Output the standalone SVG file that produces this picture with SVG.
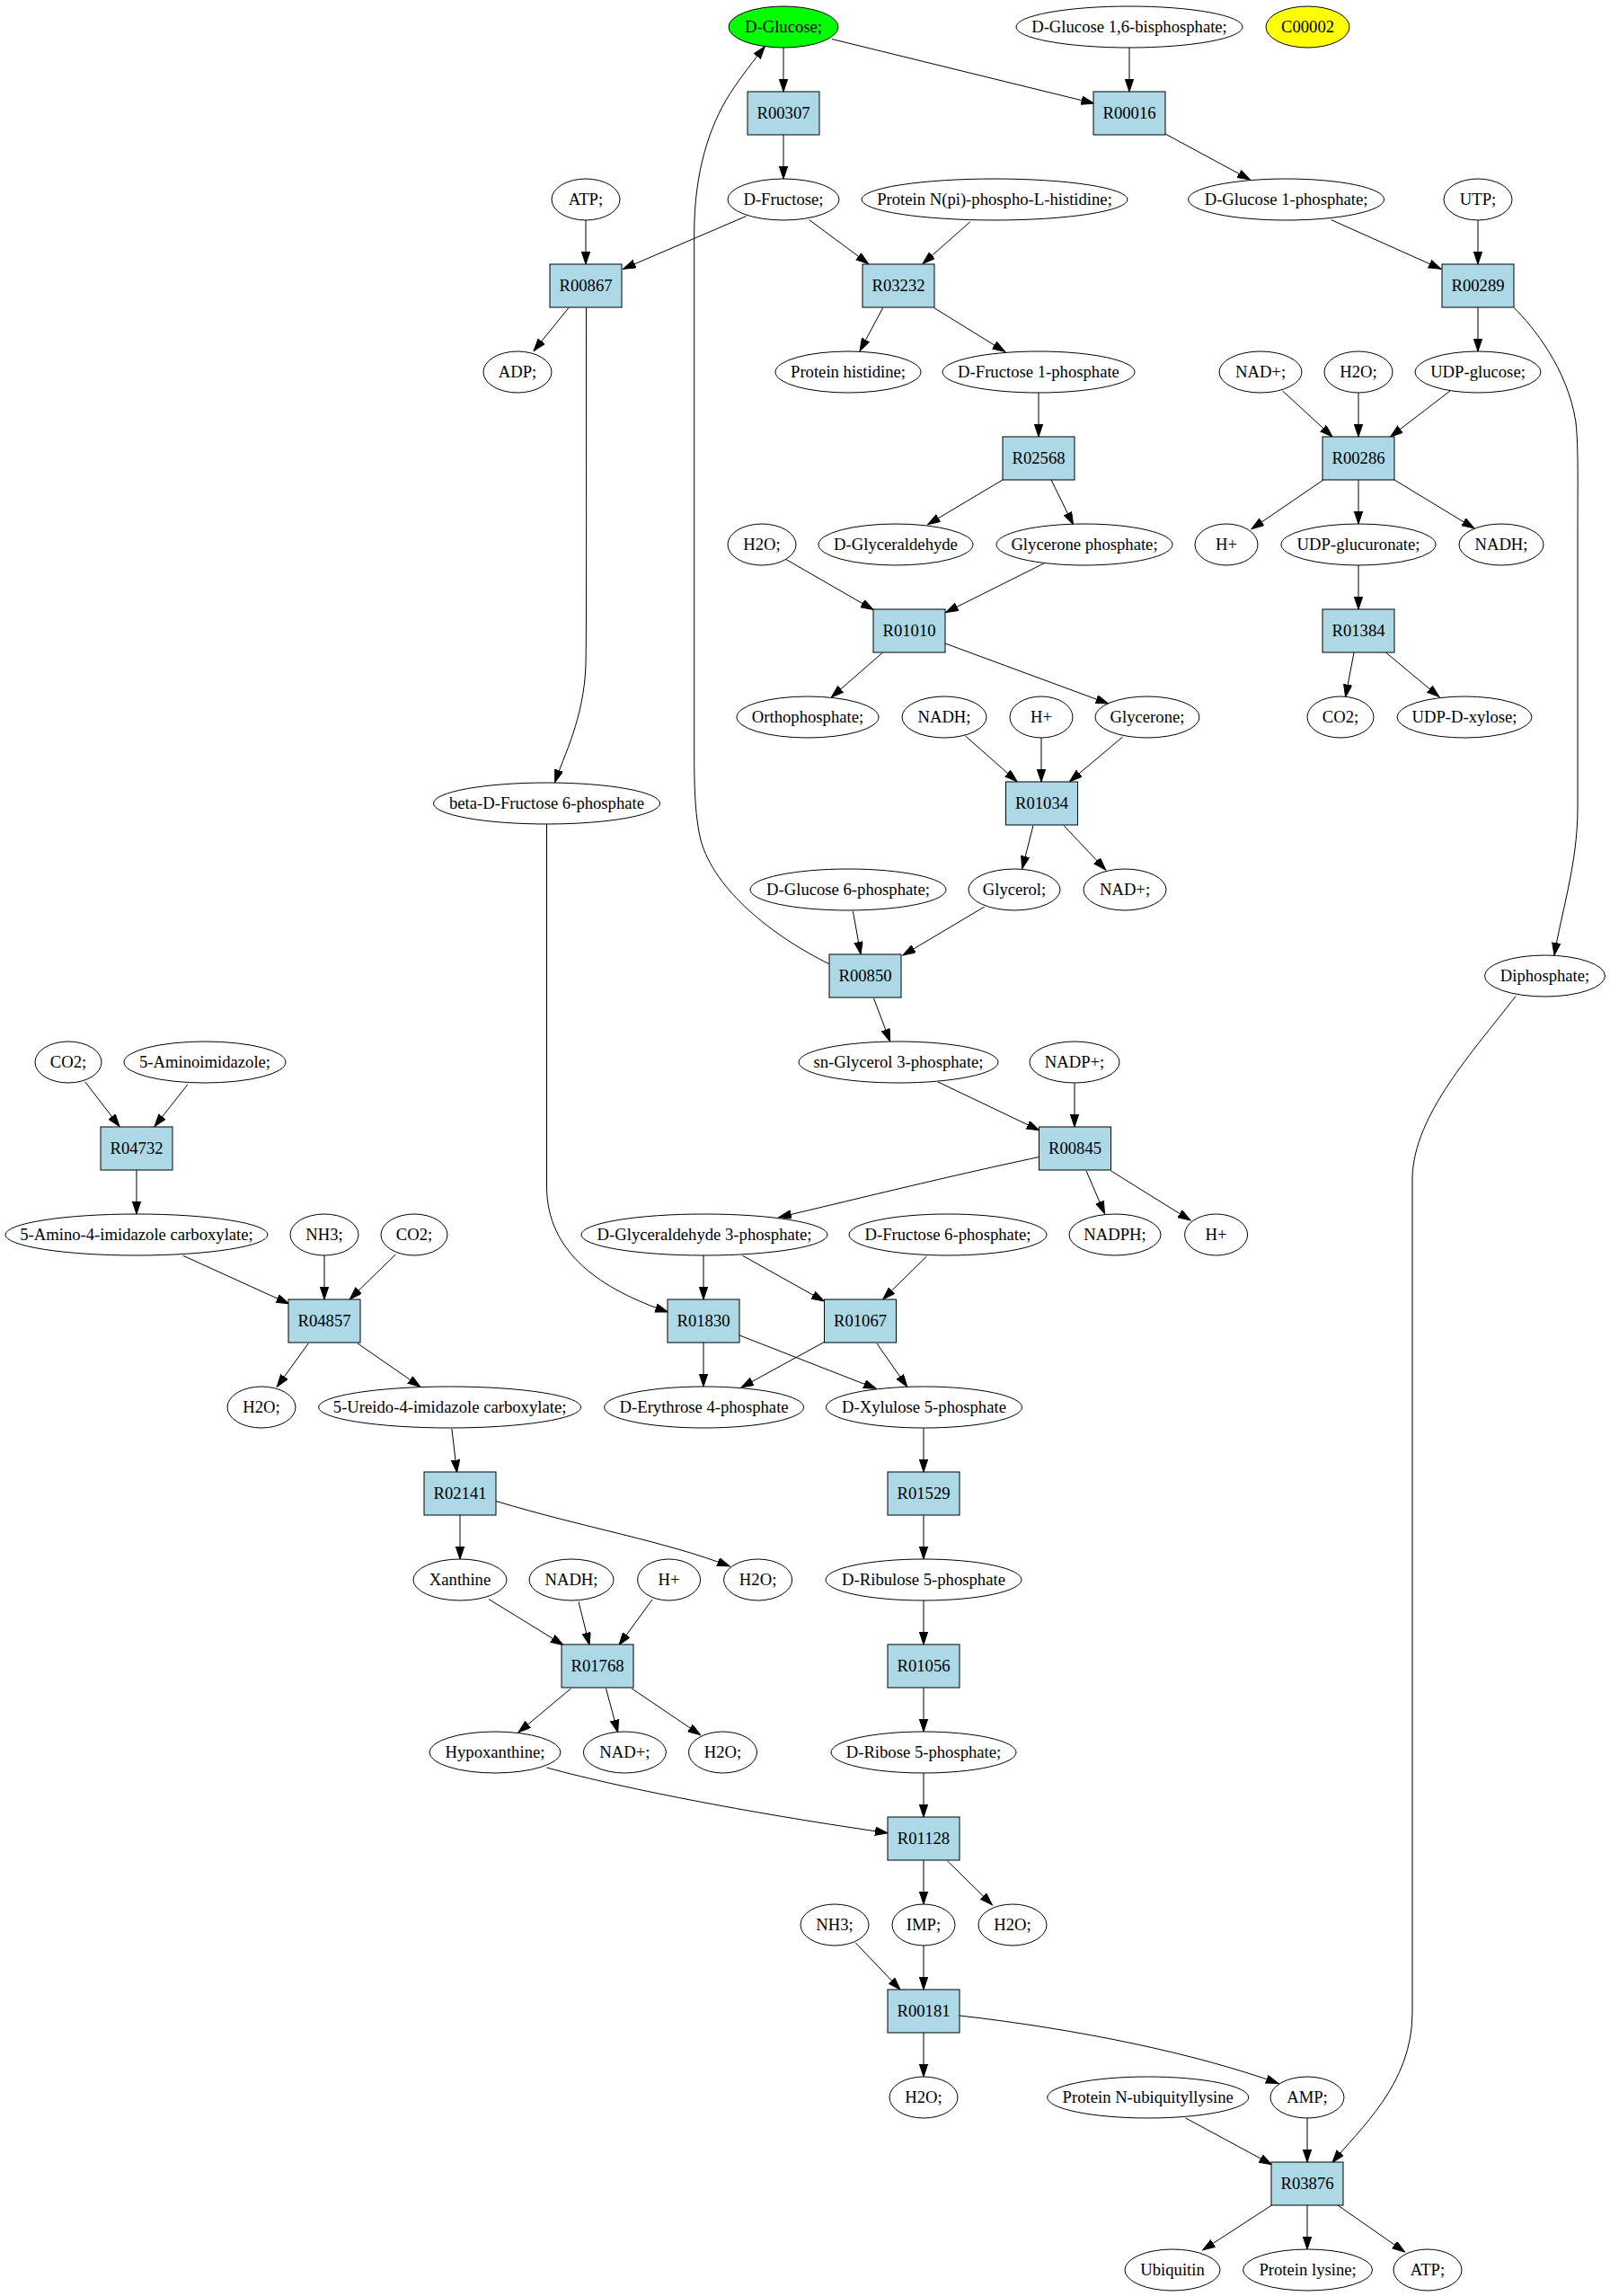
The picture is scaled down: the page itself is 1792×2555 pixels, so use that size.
<svg xmlns="http://www.w3.org/2000/svg" width="1792" height="2555" viewBox="0 0 1792 2555">
<style>
.bg{fill:#ffffff}
.c ellipse{fill:#ffffff;stroke:#000;stroke-width:1}
.r rect{fill:#add8e6;stroke:#000;stroke-width:1}
text{font-family:"Liberation Serif","Times New Roman",serif;font-size:18.67px;fill:#000;text-anchor:middle}
#edges path{fill:none;stroke:#000;stroke-width:1;marker-end:url(#ah)}
</style>
<defs>
<marker id="ah" markerUnits="userSpaceOnUse" markerWidth="15" markerHeight="10" refX="14" refY="4.7" orient="auto">
<path d="M0,0 L14,4.7 L0,9.4 z" fill="#000" stroke="#000" stroke-width="1"/>
</marker>
</defs>
<rect class="bg" x="0" y="0" width="1792" height="2555"/>
<g id="edges">
<path d="M872,53 L872,102"/>
<path d="M926,43.5 L1217.5,115"/>
<path d="M1257,53 L1257,102"/>
<path d="M872,150 L872,199"/>
<path d="M1297,149 L1391.4,200"/>
<path d="M830.6,240.5 L693.5,299.3"/>
<path d="M652,245 L652,294"/>
<path d="M900.6,244.6 L966.6,293.5"/>
<path d="M1080,246.7 L1027,293.5"/>
<path d="M1481.6,244.6 L1604,299.3"/>
<path d="M1645,245 L1645,294"/>
<path d="M633,342.5 L594,390.5"/>
<path d="M652.5,342.5 C652.5,500 653,690 652,740 C650,800 627,842 617.7,870.5"/>
<path d="M982.7,342.5 L957,390.5"/>
<path d="M1039.5,342.5 L1118.7,391.4"/>
<path d="M1645,342 L1645,391"/>
<path d="M1685.3,342.5 C1705,362 1745,410 1754,470 C1757,500 1756,540 1756,600 L1756,900 C1756,960 1738,1015 1730,1063"/>
<path d="M1156,437 L1156,486"/>
<path d="M1427.6,435 L1483,486"/>
<path d="M1512,437 L1512,486"/>
<path d="M1614,435 L1547.6,486"/>
<path d="M1116,534 L1032.6,583.7"/>
<path d="M1170,534 L1194.5,583.7"/>
<path d="M1473,534 L1393,588.7"/>
<path d="M1512,534 L1512,583"/>
<path d="M1552,534 L1641,588"/>
<path d="M874,622 L972,678.5"/>
<path d="M1161.8,627 L1052.7,681.5"/>
<path d="M1512,629 L1512,678"/>
<path d="M982.7,726 L925.3,776"/>
<path d="M1052,716 L1233.6,783"/>
<path d="M1507,726 L1497.6,775.6"/>
<path d="M1542.4,726 L1602,775.6"/>
<path d="M1074.5,819 L1132,869.7"/>
<path d="M1159,821 L1159,870"/>
<path d="M1249.6,820 L1190.5,869.7"/>
<path d="M1150,918.6 L1137.7,966.7"/>
<path d="M1184,918.6 L1230.7,968"/>
<path d="M949.4,1014 L958,1062"/>
<path d="M1095.8,1009 L1005,1063"/>
<path d="M923.6,1073 C860,1042 795,990 780,935 C774,910 772.7,880 772.7,840 L772.7,260 C772.7,190 790,140 812,105 C825,85 840,66 851.3,51.8"/>
<path d="M972.4,1110.6 L990.7,1159"/>
<path d="M1044,1204 L1156.6,1257.7"/>
<path d="M1196,1205 L1196,1254"/>
<path d="M1687,1108.5 C1640,1170 1574,1240 1572,1310 L1572,2240 C1572,2320 1512,2370 1483,2406.6"/>
<path d="M1156.6,1287.5 C1050,1310 930,1340 866.8,1354.6"/>
<path d="M1209,1302.8 L1229.5,1350.5"/>
<path d="M1236.4,1302.8 L1325,1358"/>
<path d="M209,1206.7 L172,1253.6"/>
<path d="M94.7,1203.8 L133,1253.6"/>
<path d="M152,1302 L152,1351"/>
<path d="M203.8,1397.3 L321.5,1450.8"/>
<path d="M361,1397 L361,1446"/>
<path d="M440.3,1396 L389.2,1445.8"/>
<path d="M783,1397 L783,1446"/>
<path d="M826.6,1397.3 L917.3,1448"/>
<path d="M1031.5,1398 L982.7,1445.8"/>
<path d="M608.5,917 L608.5,1320 C608.5,1395 670,1435 743.4,1460"/>
<path d="M343.3,1494.8 L308.3,1543.3"/>
<path d="M397.8,1494.8 L467.9,1543.3"/>
<path d="M783,1494 L783,1543"/>
<path d="M823.2,1486 L975.2,1545.3"/>
<path d="M917.3,1493.5 L825,1544"/>
<path d="M975.8,1494.8 L1009.7,1543.3"/>
<path d="M502.9,1590 L508.6,1638.6"/>
<path d="M1028,1589 L1028,1638"/>
<path d="M512,1686 L512,1735"/>
<path d="M552.2,1670.5 C650,1700 740,1715 812.3,1743"/>
<path d="M1028,1686 L1028,1735"/>
<path d="M544,1779.6 L627,1830.6"/>
<path d="M644,1782.5 L656,1830.6"/>
<path d="M726,1780 L689,1830.6"/>
<path d="M1028,1781 L1028,1830"/>
<path d="M635.5,1879 L577,1927.8"/>
<path d="M674.5,1879 L687.7,1927.8"/>
<path d="M703.2,1879 L779.6,1930.7"/>
<path d="M1028,1878 L1028,1927"/>
<path d="M608.5,1967 C700,1992 850,2020 988,2039.7"/>
<path d="M1028,1973 L1028,2022"/>
<path d="M1028,2070 L1028,2119"/>
<path d="M1054.5,2070.8 L1104.4,2119.8"/>
<path d="M952.3,2162 L1002,2214"/>
<path d="M1028,2165 L1028,2214"/>
<path d="M1028,2262 L1028,2311"/>
<path d="M1068,2243 C1200,2258 1330,2285 1423,2318.4"/>
<path d="M1319.7,2357 L1415.5,2408.7"/>
<path d="M1455,2357 L1455,2406"/>
<path d="M1415.5,2454 L1338.6,2504"/>
<path d="M1455,2454 L1455,2503"/>
<path d="M1489,2454 L1563.6,2506"/>
</g>
<g id="n_dglucose" class="c"><ellipse cx="872" cy="30" rx="61" ry="23" style="fill:#00ff00"/><text x="872" y="36">D-Glucose;</text></g>
<g id="n_dglc16bp" class="c"><ellipse cx="1257" cy="30" rx="126" ry="23"/><text x="1257" y="36">D-Glucose 1,6-bisphosphate;</text></g>
<g id="n_c00002" class="c"><ellipse cx="1455.5" cy="30" rx="46.5" ry="23" style="fill:#ffff00"/><text x="1455.5" y="36">C00002</text></g>
<g id="r_R00307" class="r"><rect x="832" y="102" width="80" height="48"/><text x="872" y="132">R00307</text></g>
<g id="r_R00016" class="r"><rect x="1217" y="102" width="80" height="48"/><text x="1257" y="132">R00016</text></g>
<g id="n_atp1" class="c"><ellipse cx="652" cy="222" rx="38" ry="23"/><text x="652" y="228">ATP;</text></g>
<g id="n_dfructose" class="c"><ellipse cx="872" cy="222" rx="62" ry="23"/><text x="872" y="228">D-Fructose;</text></g>
<g id="n_protnpi" class="c"><ellipse cx="1107" cy="222" rx="148" ry="23"/><text x="1107" y="228">Protein N(pi)-phospho-L-histidine;</text></g>
<g id="n_dglc1p" class="c"><ellipse cx="1431.6" cy="222" rx="109" ry="23"/><text x="1431.6" y="228">D-Glucose 1-phosphate;</text></g>
<g id="n_utp" class="c"><ellipse cx="1645" cy="222" rx="38" ry="23"/><text x="1645" y="228">UTP;</text></g>
<g id="r_R00867" class="r"><rect x="612" y="294" width="80" height="48"/><text x="652" y="324">R00867</text></g>
<g id="r_R03232" class="r"><rect x="960" y="294" width="80" height="48"/><text x="1000" y="324">R03232</text></g>
<g id="r_R00289" class="r"><rect x="1605" y="294" width="80" height="48"/><text x="1645" y="324">R00289</text></g>
<g id="n_adp" class="c"><ellipse cx="576" cy="414" rx="38" ry="23"/><text x="576" y="420">ADP;</text></g>
<g id="n_prothis" class="c"><ellipse cx="944" cy="414" rx="81" ry="23"/><text x="944" y="420">Protein histidine;</text></g>
<g id="n_dfru1p" class="c"><ellipse cx="1156" cy="414" rx="107" ry="23"/><text x="1156" y="420">D-Fructose 1-phosphate</text></g>
<g id="n_nadp1" class="c"><ellipse cx="1403" cy="414" rx="46" ry="23"/><text x="1403" y="420">NAD+;</text></g>
<g id="n_h2o1" class="c"><ellipse cx="1512" cy="414" rx="38" ry="23"/><text x="1512" y="420">H2O;</text></g>
<g id="n_udpglc" class="c"><ellipse cx="1645" cy="414" rx="70" ry="23"/><text x="1645" y="420">UDP-glucose;</text></g>
<g id="r_R02568" class="r"><rect x="1116" y="486" width="80" height="48"/><text x="1156" y="516">R02568</text></g>
<g id="r_R00286" class="r"><rect x="1472" y="486" width="80" height="48"/><text x="1512" y="516">R00286</text></g>
<g id="n_h2o2" class="c"><ellipse cx="848" cy="606" rx="38" ry="23"/><text x="848" y="612">H2O;</text></g>
<g id="n_dglyald" class="c"><ellipse cx="997" cy="606" rx="86" ry="23"/><text x="997" y="612">D-Glyceraldehyde</text></g>
<g id="n_glyconep" class="c"><ellipse cx="1207" cy="606" rx="98" ry="23"/><text x="1207" y="612">Glycerone phosphate;</text></g>
<g id="n_hplus1" class="c"><ellipse cx="1365" cy="606" rx="35" ry="23"/><text x="1365" y="612">H+</text></g>
<g id="n_udpglcur" class="c"><ellipse cx="1512" cy="606" rx="86" ry="23"/><text x="1512" y="612">UDP-glucuronate;</text></g>
<g id="n_nadh1" class="c"><ellipse cx="1671" cy="606" rx="47" ry="23"/><text x="1671" y="612">NADH;</text></g>
<g id="r_R01010" class="r"><rect x="972" y="678" width="80" height="48"/><text x="1012" y="708">R01010</text></g>
<g id="r_R01384" class="r"><rect x="1472" y="678" width="80" height="48"/><text x="1512" y="708">R01384</text></g>
<g id="n_ortho" class="c"><ellipse cx="899" cy="798" rx="79" ry="23"/><text x="899" y="804">Orthophosphate;</text></g>
<g id="n_nadh2" class="c"><ellipse cx="1051" cy="798" rx="47" ry="23"/><text x="1051" y="804">NADH;</text></g>
<g id="n_hplus2" class="c"><ellipse cx="1159" cy="798" rx="35" ry="23"/><text x="1159" y="804">H+</text></g>
<g id="n_glycerone" class="c"><ellipse cx="1277" cy="798" rx="58" ry="23"/><text x="1277" y="804">Glycerone;</text></g>
<g id="n_co2a" class="c"><ellipse cx="1492" cy="798" rx="37" ry="23"/><text x="1492" y="804">CO2;</text></g>
<g id="n_udpxyl" class="c"><ellipse cx="1630" cy="798" rx="75" ry="23"/><text x="1630" y="804">UDP-D-xylose;</text></g>
<g id="n_bdf6p" class="c"><ellipse cx="608.5" cy="894" rx="126" ry="23"/><text x="608.5" y="900">beta-D-Fructose 6-phosphate</text></g>
<g id="r_R01034" class="r"><rect x="1119.5" y="870" width="80" height="48"/><text x="1159.5" y="900">R01034</text></g>
<g id="n_dglc6p" class="c"><ellipse cx="944" cy="990" rx="109" ry="23"/><text x="944" y="996">D-Glucose 6-phosphate;</text></g>
<g id="n_glycerol" class="c"><ellipse cx="1129" cy="990" rx="51" ry="23"/><text x="1129" y="996">Glycerol;</text></g>
<g id="n_nadp2" class="c"><ellipse cx="1252" cy="990" rx="46" ry="23"/><text x="1252" y="996">NAD+;</text></g>
<g id="r_R00850" class="r"><rect x="923" y="1062" width="80" height="48"/><text x="963" y="1092">R00850</text></g>
<g id="n_diphos" class="c"><ellipse cx="1719.5" cy="1086" rx="67" ry="23"/><text x="1719.5" y="1092">Diphosphate;</text></g>
<g id="n_co2b" class="c"><ellipse cx="76" cy="1182" rx="37" ry="23"/><text x="76" y="1188">CO2;</text></g>
<g id="n_5aim" class="c"><ellipse cx="228" cy="1182" rx="90" ry="23"/><text x="228" y="1188">5-Aminoimidazole;</text></g>
<g id="n_sng3p" class="c"><ellipse cx="1000" cy="1182" rx="111" ry="23"/><text x="1000" y="1188">sn-Glycerol 3-phosphate;</text></g>
<g id="n_nadpplus" class="c"><ellipse cx="1196" cy="1182" rx="50" ry="23"/><text x="1196" y="1188">NADP+;</text></g>
<g id="r_R04732" class="r"><rect x="112" y="1254" width="80" height="48"/><text x="152" y="1284">R04732</text></g>
<g id="r_R00845" class="r"><rect x="1156.5" y="1254" width="80" height="48"/><text x="1196.5" y="1284">R00845</text></g>
<g id="n_5a4ic" class="c"><ellipse cx="152" cy="1374" rx="146" ry="23"/><text x="152" y="1380">5-Amino-4-imidazole carboxylate;</text></g>
<g id="n_nh3a" class="c"><ellipse cx="361" cy="1374" rx="38" ry="23"/><text x="361" y="1380">NH3;</text></g>
<g id="n_co2c" class="c"><ellipse cx="461" cy="1374" rx="37" ry="23"/><text x="461" y="1380">CO2;</text></g>
<g id="n_dg3p" class="c"><ellipse cx="784" cy="1374" rx="137" ry="23"/><text x="784" y="1380">D-Glyceraldehyde 3-phosphate;</text></g>
<g id="n_df6p" class="c"><ellipse cx="1055" cy="1374" rx="110" ry="23"/><text x="1055" y="1380">D-Fructose 6-phosphate;</text></g>
<g id="n_nadph" class="c"><ellipse cx="1241" cy="1374" rx="51" ry="23"/><text x="1241" y="1380">NADPH;</text></g>
<g id="n_hplus3" class="c"><ellipse cx="1353.6" cy="1374" rx="35" ry="23"/><text x="1353.6" y="1380">H+</text></g>
<g id="r_R04857" class="r"><rect x="321" y="1446" width="80" height="48"/><text x="361" y="1476">R04857</text></g>
<g id="r_R01830" class="r"><rect x="743" y="1446" width="80" height="48"/><text x="783" y="1476">R01830</text></g>
<g id="r_R01067" class="r"><rect x="917.5" y="1446" width="80" height="48"/><text x="957.5" y="1476">R01067</text></g>
<g id="n_h2o3" class="c"><ellipse cx="291" cy="1566" rx="38" ry="23"/><text x="291" y="1572">H2O;</text></g>
<g id="n_5u4ic" class="c"><ellipse cx="500.6" cy="1566" rx="146" ry="23"/><text x="500.6" y="1572">5-Ureido-4-imidazole carboxylate;</text></g>
<g id="n_de4p" class="c"><ellipse cx="783.6" cy="1566" rx="111" ry="23"/><text x="783.6" y="1572">D-Erythrose 4-phosphate</text></g>
<g id="n_dx5p" class="c"><ellipse cx="1028.5" cy="1566" rx="109" ry="23"/><text x="1028.5" y="1572">D-Xylulose 5-phosphate</text></g>
<g id="r_R02141" class="r"><rect x="472" y="1638" width="80" height="48"/><text x="512" y="1668">R02141</text></g>
<g id="r_R01529" class="r"><rect x="988" y="1638" width="80" height="48"/><text x="1028" y="1668">R01529</text></g>
<g id="n_xanthine" class="c"><ellipse cx="512" cy="1758" rx="52" ry="23"/><text x="512" y="1764">Xanthine</text></g>
<g id="n_nadh3" class="c"><ellipse cx="636" cy="1758" rx="47" ry="23"/><text x="636" y="1764">NADH;</text></g>
<g id="n_hplus4" class="c"><ellipse cx="744.6" cy="1758" rx="35" ry="23"/><text x="744.6" y="1764">H+</text></g>
<g id="n_h2o4" class="c"><ellipse cx="843.6" cy="1758" rx="38" ry="23"/><text x="843.6" y="1764">H2O;</text></g>
<g id="n_dru5p" class="c"><ellipse cx="1028" cy="1758" rx="109" ry="23"/><text x="1028" y="1764">D-Ribulose 5-phosphate</text></g>
<g id="r_R01768" class="r"><rect x="625" y="1830" width="80" height="48"/><text x="665" y="1860">R01768</text></g>
<g id="r_R01056" class="r"><rect x="988" y="1830" width="80" height="48"/><text x="1028" y="1860">R01056</text></g>
<g id="n_hypox" class="c"><ellipse cx="551" cy="1950" rx="73" ry="23"/><text x="551" y="1956">Hypoxanthine;</text></g>
<g id="n_nadp3" class="c"><ellipse cx="695.4" cy="1950" rx="46" ry="23"/><text x="695.4" y="1956">NAD+;</text></g>
<g id="n_h2o5" class="c"><ellipse cx="804.5" cy="1950" rx="38" ry="23"/><text x="804.5" y="1956">H2O;</text></g>
<g id="n_dr5p" class="c"><ellipse cx="1028" cy="1950" rx="103" ry="23"/><text x="1028" y="1956">D-Ribose 5-phosphate;</text></g>
<g id="r_R01128" class="r"><rect x="988" y="2022" width="80" height="48"/><text x="1028" y="2052">R01128</text></g>
<g id="n_nh3b" class="c"><ellipse cx="929" cy="2142" rx="38" ry="23"/><text x="929" y="2148">NH3;</text></g>
<g id="n_imp" class="c"><ellipse cx="1028" cy="2142" rx="35" ry="23"/><text x="1028" y="2148">IMP;</text></g>
<g id="n_h2o6" class="c"><ellipse cx="1127" cy="2142" rx="38" ry="23"/><text x="1127" y="2148">H2O;</text></g>
<g id="r_R00181" class="r"><rect x="988" y="2214" width="80" height="48"/><text x="1028" y="2244">R00181</text></g>
<g id="n_h2o7" class="c"><ellipse cx="1028" cy="2334" rx="38" ry="23"/><text x="1028" y="2340">H2O;</text></g>
<g id="n_protnub" class="c"><ellipse cx="1277.7" cy="2334" rx="112" ry="23"/><text x="1277.7" y="2340">Protein N-ubiquityllysine</text></g>
<g id="n_amp" class="c"><ellipse cx="1455" cy="2334" rx="41" ry="23"/><text x="1455" y="2340">AMP;</text></g>
<g id="r_R03876" class="r"><rect x="1415" y="2406" width="80" height="48"/><text x="1455" y="2436">R03876</text></g>
<g id="n_ubiq" class="c"><ellipse cx="1305" cy="2526" rx="53" ry="23"/><text x="1305" y="2532">Ubiquitin</text></g>
<g id="n_protlys" class="c"><ellipse cx="1455.6" cy="2526" rx="72" ry="23"/><text x="1455.6" y="2532">Protein lysine;</text></g>
<g id="n_atp2" class="c"><ellipse cx="1589" cy="2526" rx="38" ry="23"/><text x="1589" y="2532">ATP;</text></g>
</svg>
